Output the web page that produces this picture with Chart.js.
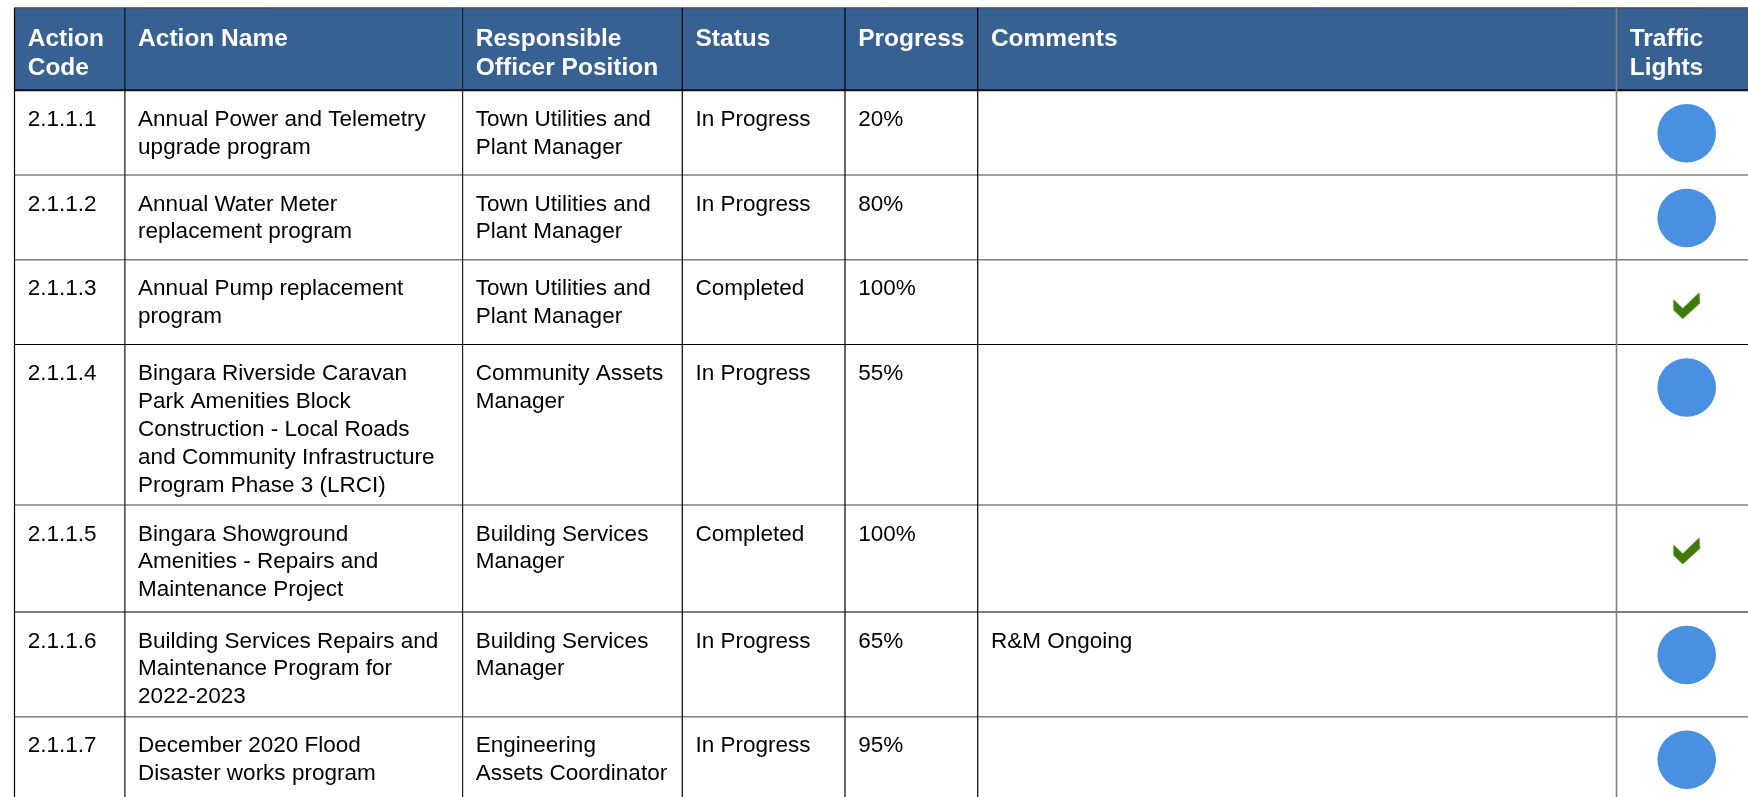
<!DOCTYPE html>
<html><head><meta charset="utf-8">
<script src="https://cdn.jsdelivr.net/npm/chart.js@4.4.0/dist/chart.umd.min.js"></script>
<style>html,body{margin:0;padding:0;background:#fff;overflow:hidden}canvas{display:block}</style>
</head><body>
<canvas id="c" width="1748" height="797" style="width:1748px;height:797px"></canvas>
<script>
// ---------- DATA ----------
const headers = ['Action\nCode', 'Action Name', 'Responsible\nOfficer Position', 'Status', 'Progress', 'Comments', 'Traffic\nLights'];
const actionCodes = ['2.1.1.1', '2.1.1.2', '2.1.1.3', '2.1.1.4', '2.1.1.5', '2.1.1.6', '2.1.1.7'];
const actionNames = [
  'Annual Power and Telemetry\nupgrade program',
  'Annual Water Meter\nreplacement program',
  'Annual Pump replacement\nprogram',
  'Bingara Riverside Caravan\nPark Amenities Block\nConstruction - Local Roads\nand Community Infrastructure\nProgram Phase 3 (LRCI)',
  'Bingara Showground\nAmenities - Repairs and\nMaintenance Project',
  'Building Services Repairs and\nMaintenance Program for\n2022-2023',
  'December 2020 Flood\nDisaster works program'
];
const officers = [
  'Town Utilities and\nPlant Manager',
  'Town Utilities and\nPlant Manager',
  'Town Utilities and\nPlant Manager',
  'Community Assets\nManager',
  'Building Services\nManager',
  'Building Services\nManager',
  'Engineering\nAssets Coordinator'
];
const statuses = ['In Progress', 'In Progress', 'Completed', 'In Progress', 'Completed', 'In Progress', 'In Progress'];
const progress = [20, 80, 100, 55, 100, 65, 95];
const comments = ['', '', '', '', '', 'R&M Ongoing', ''];

// ---------- LAYOUT / STYLE ----------
const colEdges = [14.5, 124.9, 462.6, 682.3, 845, 977.7, 1616.5, 1800];
const rowEdges = [7.8, 90.3, 175, 259.7, 344.5, 505, 612, 716.8, 900];
const PAD = 13.2;
const HEADER_BG = '#366192';
const HEADER_FONT = 'bold 24.5px "Liberation Sans", Arial, sans-serif';
const BODY_FONT = '22.5px "Liberation Sans", Arial, sans-serif';
const HEADER_BASE = 37.8, HEADER_LH = 29;
const BODY_BASE = 35.5, BODY_LH = 27.9;
const TL_OFFSET_X = 70.2, TL_OFFSET_Y = 43;
const hLineStyle = [['#444',1],['#111',2],['#808080',1.6],['#808080',1.6],['#000',1.2],['#808080',1.6],['#000',1.2],['#808080',1.6]];
const vLineStyle = [['#000',1.2],['#111',1.2],['#222',1.2],['#000',1.2],['#000',1.2],['#000',1.2],['#808080',1.6]];

// check-mark point style
function makeCheck() {
  const c = document.createElement('canvas');
  c.width = 40; c.height = 40;
  const g = c.getContext('2d');
  const cx = 20, cy = 23;
  g.fillStyle = '#3f7a08';
  g.beginPath();
  g.moveTo(cx - 13.4, cy - 6.4);
  g.lineTo(cx - 4, cy + 2.6);
  g.lineTo(cx + 12.6, cy - 13.4);
  g.lineTo(cx + 13.3, cy - 2.4);
  g.lineTo(cx - 4, cy + 13.3);
  g.lineTo(cx - 13.4, cy + 4.3);
  g.closePath();
  g.fill();
  return c;
}
const checkImg = makeCheck();

const bodyColumns = [actionCodes, actionNames, officers, statuses, progress.map(v => v + '%'), comments];

const tablePlugin = {
  id: 'tableGrid',
  beforeDatasetsDraw(chart) {
    const { ctx, scales: { x, y } } = chart;
    const px = v => x.getPixelForValue(v), py = v => y.getPixelForValue(v);
    const left = px(colEdges[0]), right = px(colEdges[colEdges.length - 1]);
    const top = py(rowEdges[0]), bottom = py(rowEdges[rowEdges.length - 1]);
    ctx.save();
    ctx.fillStyle = '#fff';
    ctx.fillRect(0, 0, chart.width, chart.height);
    ctx.fillStyle = HEADER_BG;
    ctx.fillRect(left, top, right - left, py(rowEdges[1]) - top);
    ctx.textBaseline = 'alphabetic';
    ctx.textAlign = 'left';
    ctx.fillStyle = '#fff';
    ctx.font = HEADER_FONT;
    headers.forEach((h, i) => {
      h.split('\n').forEach((line, j) => {
        ctx.fillText(line, px(colEdges[i]) + PAD, py(rowEdges[0] + HEADER_BASE + j * HEADER_LH));
      });
    });
    ctx.fillStyle = '#000';
    ctx.font = BODY_FONT;
    bodyColumns.forEach((col, i) => {
      col.forEach((txt, r) => {
        String(txt).split('\n').forEach((line, j) => {
          if (!line) return;
          ctx.fillText(line, px(colEdges[i]) + PAD, py(rowEdges[r + 1] + BODY_BASE + j * BODY_LH));
        });
      });
    });
    for (let r = 0; r < rowEdges.length - 1; r++) {
      const [col, w] = hLineStyle[r];
      ctx.strokeStyle = col; ctx.lineWidth = w;
      ctx.beginPath();
      ctx.moveTo(left, py(rowEdges[r])); ctx.lineTo(right, py(rowEdges[r]));
      ctx.stroke();
    }
    for (let c = 0; c < colEdges.length - 1; c++) {
      const [col, w] = vLineStyle[c];
      ctx.strokeStyle = col; ctx.lineWidth = w;
      ctx.beginPath();
      ctx.moveTo(px(colEdges[c]), top); ctx.lineTo(px(colEdges[c]), bottom);
      ctx.stroke();
    }
    ctx.restore();
  }
};

new Chart(document.getElementById('c'), {
  type: 'scatter',
  data: {
    datasets: [{
      label: 'Traffic Lights',
      data: statuses.map((s, r) => ({ x: colEdges[6] + TL_OFFSET_X, y: rowEdges[r + 1] + TL_OFFSET_Y })),
      pointStyle: statuses.map(s => s === 'Completed' ? checkImg : 'circle'),
      pointRadius: 29.3,
      pointBackgroundColor: '#4a90e2',
      pointBorderWidth: 0,
      borderWidth: 0,
      clip: false
    }]
  },
  options: {
    responsive: false,
    animation: false,
    devicePixelRatio: 1,
    events: [],
    layout: { padding: 0, autoPadding: false },
    plugins: { legend: { display: false }, tooltip: { enabled: false } },
    scales: {
      x: { type: 'linear', min: 0, max: 1748, display: false },
      y: { type: 'linear', min: 0, max: 797, reverse: true, display: false }
    }
  },
  plugins: [tablePlugin]
});
</script>
</body></html>
